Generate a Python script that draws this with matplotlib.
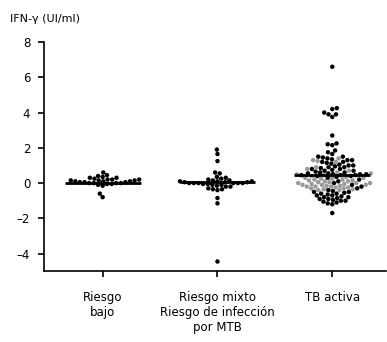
"""
plot.py

Dot plot of IFN-gamma values by risk group, saved as out.png.
"""
import matplotlib
import matplotlib.pyplot as plt
import pandas as pd
import seaborn as sns

matplotlib.use("Agg")

OUTPUT_PATH = "out.png"

# Group labels on the x axis
grupos = ["Riesgo\nbajo", "Riesgo mixto\nRiesgo de infección\npor MTB", "TB activa"]

# Values (IFN-γ, UI/ml)
bajo = [0.6, 0.45, 0.4, 0.35, 0.3, 0.3, 0.25, 0.2, 0.2, 0.2, 0.15, 0.15, 0.15,
        0.1, 0.1, 0.1, 0.05, 0.05, 0.05, 0.0, 0.0, 0.0, 0.0,
        -0.05, -0.05, -0.1, -0.15, -0.6, -0.8]

mixto = [1.9, 1.65, 1.25, 0.6, 0.55, 0.35, 0.3, 0.25, 0.2, 0.15, 0.15, 0.1,
         0.1, 0.1, 0.05, 0.05, 0.05, 0.0, 0.0, 0.0, 0.0, 0.0, 0.0,
         -0.05, -0.05, -0.1, -0.1, -0.15, -0.2, -0.2, -0.3,
         -0.35, -0.35, -0.4, -0.85, -1.15, -4.45]

activa_negro = [6.6, 4.25, 4.2, 4.0, 3.9, 3.9, 3.75, 2.7, 2.25, 2.2, 2.15,
                1.85, 1.75, 1.65, 1.5, 1.5, 1.45, 1.4, 1.35, 1.3, 1.3, 1.2,
                1.2, 1.15, 1.1, 1.05, 1.0, 1.0, 0.95, 0.9, 0.9, 0.85, 0.8,
                0.8, 0.75, 0.7, 0.7, 0.65, 0.6, 0.6, 0.55, 0.55, 0.5, 0.5,
                0.5, 0.45, 0.45, 0.45, 0.4, 0.4, 0.35, 0.3, 0.2, 0.1, 0.0,
                -0.1, -0.2, -0.3, -0.4, -0.45, -0.5, -0.5, -0.55, -0.6,
                -0.6, -0.65, -0.7, -0.7, -0.75, -0.8, -0.8, -0.85, -0.9,
                -0.9, -0.95, -1.0, -1.0, -1.05, -1.1, -1.15, -1.2, -1.7]
activa_gris = [1.4, 1.3, 1.25, 1.2, 0.9, 0.8, 0.7, 0.6, 0.55, 0.5, 0.45,
               0.4, 0.35, 0.3, 0.3, 0.25, 0.25, 0.2, 0.2, 0.15, 0.15, 0.1,
               0.1, 0.05, 0.05, 0.0, 0.0, 0.0, -0.05, -0.05, -0.1, -0.1,
               -0.1, -0.15, -0.15, -0.2, -0.2, -0.2, -0.25, -0.25, -0.3,
               -0.3, -0.35, -0.35, -0.4, -0.4]

# Median lines as drawn in the picture
medianas = [0.0, 0.05, 0.45]

rows = []
for v in bajo:
    rows.append((grupos[0], v, "negro"))
for v in mixto:
    rows.append((grupos[1], v, "negro"))
for v in activa_negro:
    rows.append((grupos[2], v, "negro"))
for v in activa_gris:
    rows.append((grupos[2], v, "gris"))
df = pd.DataFrame(rows, columns=["grupo", "valor", "tono"])

plt.rcParams["font.family"] = ["DejaVu Sans"]

fig = plt.figure(figsize=(3.87, 3.42), dpi=100)
ax = fig.add_axes([0.114, 0.207, 0.884, 0.67])

sns.swarmplot(data=df, x="grupo", y="valor", hue="tono", order=grupos,
              palette={"negro": "black", "gris": "#9a9a9a"}, size=3.2,
              linewidth=0, legend=False, ax=ax)

for i, m in enumerate(medianas):
    ax.hlines(m, i - 0.33, i + 0.33, color="black", lw=2, zorder=5)

ax.set_xlim(-0.51, 2.47)
ax.set_ylim(-5, 8)
ax.set_yticks([8, 6, 4, 2, 0, -2, -4])
ax.set_yticklabels(["8", "6", "4", "2", "0", "\u20132", "\u20134"])
ax.set_xlabel("")
ax.set_ylabel("")

for side in ["top", "right"]:
    ax.spines[side].set_visible(False)
ax.spines["left"].set_linewidth(1.2)
ax.spines["bottom"].set_linewidth(1.2)
ax.tick_params(axis="y", length=4, width=1.2, labelsize=8.5, pad=6)
ax.tick_params(axis="x", length=4, width=1.2, labelsize=8.5, pad=10)

fig.text(0.025, 0.945, "IFN-γ (UI/ml)", fontsize=8, ha="left", va="center")

plt.savefig(OUTPUT_PATH, dpi=100)
print(f"Saved graph to {OUTPUT_PATH}")
